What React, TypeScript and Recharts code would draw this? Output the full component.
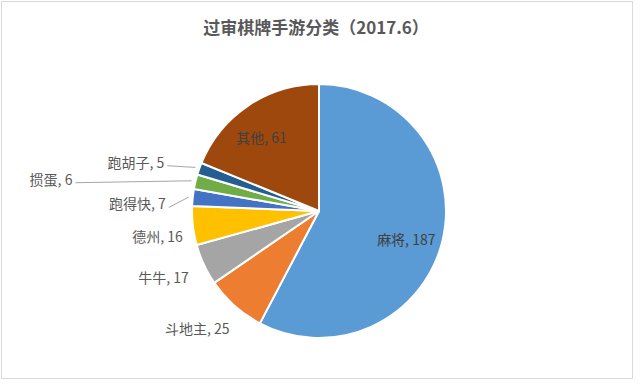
import React from 'react';
import { PieChart, Pie, Cell } from 'recharts';

const categories = ['麻将', '斗地主', '牛牛', '德州', '跑得快', '掼蛋', '跑胡子', '其他'];
const counts = [187, 25, 17, 16, 7, 6, 5, 61];
const colors = ['#5B9BD5', '#ED7D31', '#A5A5A5', '#FFC000', '#4472C4', '#70AD47', '#255E91', '#9E480E'];

const data = categories.map((name, i) => ({ name, value: counts[i] }));

// label placement: radius factor of base point, then offset in px
const labelRadius = [0.7, 1, 1, 1, 1, 1, 1, 0.7];
const labelOffset: [number, number][] = [
  [1, 7],
  [-5, 22],
  [-15, 12],
  [-10, 10],
  [-27, 6],
  [-123, -3],
  [-35, -7],
  [-8, 0],
];
const withLine = [false, false, false, false, true, true, true, false];

const RADIAN = Math.PI / 180;

const renderLabel = (props: any) => {
  const { cx, cy, midAngle, outerRadius, index } = props;
  const inside = labelRadius[index] < 1;
  const r = outerRadius * labelRadius[index];
  const bx = cx + r * Math.cos(-midAngle * RADIAN);
  const by = cy + r * Math.sin(-midAngle * RADIAN);
  const x = bx + labelOffset[index][0];
  const y = by + labelOffset[index][1];
  const ex = cx + (outerRadius + 4) * Math.cos(-midAngle * RADIAN);
  const ey = cy + (outerRadius + 4) * Math.sin(-midAngle * RADIAN);
  return (
    <g key={`lbl-${index}`}>
      {withLine[index] && (
        <polyline
          points={`${x + 3},${y + 4} ${ex},${ey}`}
          fill="none"
          stroke="#A6A6A6"
          strokeWidth={1}
        />
      )}
      <text
        x={x}
        y={y}
        textAnchor={inside ? 'middle' : 'end'}
        dominantBaseline="central"
        fontSize={14}
        fill={inside ? '#404040' : '#595959'}
      >
        {`${categories[index]}, ${counts[index]}`}
      </text>
    </g>
  );
};

export default function App() {
  return (
    <div
      style={{
        position: 'absolute',
        left: 0,
        top: 0,
        width: 640,
        height: 385,
        background: '#fff',
        fontFamily: '"Noto Sans CJK SC", "Noto Sans", sans-serif',
      }}
    >
      <div
        style={{
          position: 'absolute',
          left: 1,
          top: 1,
          width: 630,
          height: 376,
          border: '1px solid #D9D9D9',
        }}
      />
      <div
        style={{
          position: 'absolute',
          top: 15,
          left: 0,
          width: 632,
          textAlign: 'center',
          fontSize: 17,
          fontWeight: 'bold',
          color: '#595959',
          lineHeight: '24px',
        }}
      >
        过审棋牌手游分类（2017.6）
      </div>
      <div style={{ position: 'absolute', left: 0, top: 0 }}>
        <PieChart width={640} height={385} margin={{ top: 0, right: 0, bottom: 0, left: 0 }}>
          <Pie
            data={data}
            dataKey="value"
            nameKey="name"
            cx={319}
            cy={211}
            outerRadius={127}
            startAngle={90}
            endAngle={-270}
            stroke="#fff"
            strokeWidth={2}
            label={renderLabel}
            labelLine={false}
            isAnimationActive={false}
          >
            {data.map((d, i) => (
              <Cell key={d.name} fill={colors[i]} />
            ))}
          </Pie>
        </PieChart>
      </div>
    </div>
  );
}
